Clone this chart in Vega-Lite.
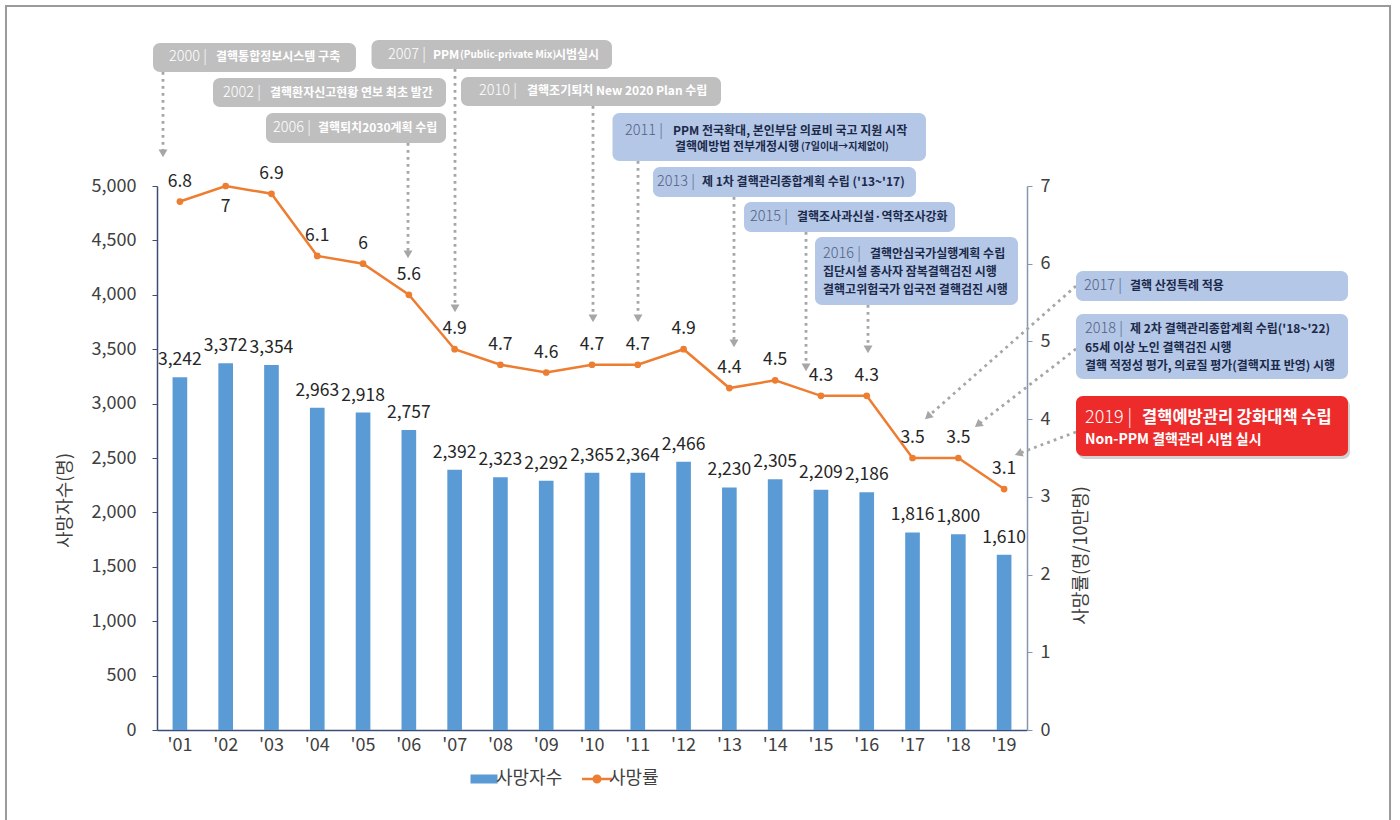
{
  "$schema": "https://vega.github.io/schema/vega-lite/v6.json",
  "width": 870,
  "height": 544,
  "autosize": {"type": "none"},
  "padding": {"left": 157, "top": 186, "right": 373, "bottom": 90},
  "background": "#ffffff",
  "config": {
    "font": "Noto Sans CJK KR",
    "view": {"stroke": null},
    "axis": {"labelFont": "Noto Sans CJK KR", "titleFont": "Noto Sans CJK KR", "grid": false}
  },
  "datasets": {
    "deaths": [
      {"yr": "'01", "count": 3242, "rate": 6.8},
      {"yr": "'02", "count": 3372, "rate": 7},
      {"yr": "'03", "count": 3354, "rate": 6.9},
      {"yr": "'04", "count": 2963, "rate": 6.1},
      {"yr": "'05", "count": 2918, "rate": 6},
      {"yr": "'06", "count": 2757, "rate": 5.6},
      {"yr": "'07", "count": 2392, "rate": 4.9},
      {"yr": "'08", "count": 2323, "rate": 4.7},
      {"yr": "'09", "count": 2292, "rate": 4.6},
      {"yr": "'10", "count": 2365, "rate": 4.7},
      {"yr": "'11", "count": 2364, "rate": 4.7},
      {"yr": "'12", "count": 2466, "rate": 4.9},
      {"yr": "'13", "count": 2230, "rate": 4.4},
      {"yr": "'14", "count": 2305, "rate": 4.5},
      {"yr": "'15", "count": 2209, "rate": 4.3},
      {"yr": "'16", "count": 2186, "rate": 4.3},
      {"yr": "'17", "count": 1816, "rate": 3.5},
      {"yr": "'18", "count": 1800, "rate": 3.5},
      {"yr": "'19", "count": 1610, "rate": 3.1}
    ],
    "frame": [
      {"x": 1997.202, "xe": 2027.428, "y": 9.316, "ye": -1.351}
    ],
    "boxes": [
      {"ev": "2000", "phase": "g", "x": 2000.413, "xe": 2004.846, "y": 8.840, "ye": 8.467},
      {"ev": "2002", "phase": "g", "x": 2001.723, "xe": 2006.812, "y": 8.390, "ye": 8.017},
      {"ev": "2006", "phase": "g", "x": 2002.880, "xe": 2006.812, "y": 7.939, "ye": 7.553},
      {"ev": "2007", "phase": "g", "x": 2005.185, "xe": 2010.437, "y": 8.879, "ye": 8.505},
      {"ev": "2010", "phase": "g", "x": 2007.139, "xe": 2012.817, "y": 8.403, "ye": 8.029},
      {"ev": "2011", "phase": "b", "x": 2010.448, "xe": 2017.294, "y": 7.939, "ye": 7.322},
      {"ev": "2013", "phase": "b", "x": 2011.332, "xe": 2017.076, "y": 7.244, "ye": 6.858},
      {"ev": "2015", "phase": "b", "x": 2013.320, "xe": 2017.928, "y": 6.794, "ye": 6.408},
      {"ev": "2016", "phase": "b", "x": 2014.870, "xe": 2019.304, "y": 6.344, "ye": 5.469},
      {"ev": "2017", "phase": "b", "x": 2020.570, "xe": 2026.511, "y": 5.906, "ye": 5.520},
      {"ev": "2018", "phase": "b", "x": 2020.570, "xe": 2026.511, "y": 5.353, "ye": 4.517},
      {"ev": "2019", "phase": "r", "x": 2020.570, "xe": 2026.511, "y": 4.298, "ye": 3.526}
    ],
    "arrows": [
      {"ev": "2000", "x": 2000.631, "y": 8.467, "xe": 2000.631, "ye": 7.437, "heading": 180},
      {"ev": "2006", "x": 2005.982, "y": 7.553, "xe": 2005.982, "ye": 6.138, "heading": 180},
      {"ev": "2007", "x": 2007.008, "y": 8.505, "xe": 2007.008, "ye": 5.443, "heading": 180},
      {"ev": "2010", "x": 2010.022, "y": 8.029, "xe": 2010.022, "ye": 5.314, "heading": 180},
      {"ev": "2011", "x": 2011.005, "y": 7.322, "xe": 2011.005, "ye": 5.314, "heading": 180},
      {"ev": "2013", "x": 2013.101, "y": 6.858, "xe": 2013.101, "ye": 4.993, "heading": 180},
      {"ev": "2015", "x": 2014.674, "y": 6.408, "xe": 2014.674, "ye": 4.684, "heading": 180},
      {"ev": "2016", "x": 2016.028, "y": 5.469, "xe": 2016.028, "ye": 4.915, "heading": 180},
      {"ev": "2017", "x": 2020.570, "y": 5.713, "xe": 2017.356, "ye": 4.044, "heading": 228.6},
      {"ev": "2018", "x": 2020.570, "y": 4.903, "xe": 2018.452, "ye": 3.938, "heading": 232.3},
      {"ev": "2019", "x": 2020.570, "y": 3.835, "xe": 2019.341, "ye": 3.562, "heading": 249.4}
    ],
    "notes": [
      {"phase": "g", "kind": "year", "x": 2000.762, "y": 8.660, "t": "2000 |"},
      {"phase": "g", "kind": "desc", "x": 2001.789, "y": 8.660, "t": "결핵통합정보시스템 구축"},
      {"phase": "g", "kind": "year", "x": 2001.941, "y": 8.203, "t": "2002 |"},
      {"phase": "g", "kind": "desc", "x": 2002.968, "y": 8.203, "t": "결핵환자신고현황 연보 최초 발간"},
      {"phase": "g", "kind": "year", "x": 2003.033, "y": 7.746, "t": "2006 |"},
      {"phase": "g", "kind": "desc", "x": 2004.016, "y": 7.746, "t": "결핵퇴치2030계획 수립"},
      {"phase": "g", "kind": "year", "x": 2005.545, "y": 8.692, "t": "2007 |"},
      {"phase": "g", "kind": "desc", "x": 2006.528, "y": 8.692, "t": "PPM"},
      {"phase": "g", "kind": "small", "x": 2007.117, "y": 8.685, "t": "(Public-private Mix)"},
      {"phase": "g", "kind": "desc", "x": 2009.192, "y": 8.692, "t": "시범실시"},
      {"phase": "g", "kind": "year", "x": 2007.532, "y": 8.216, "t": "2010 |"},
      {"phase": "g", "kind": "desc", "x": 2008.581, "y": 8.216, "t": "결핵조기퇴치 New 2020 Plan 수립"},
      {"phase": "b", "kind": "year", "x": 2010.721, "y": 7.714, "t": "2011 |"},
      {"phase": "b", "kind": "desc", "x": 2011.769, "y": 7.714, "t": "PPM 전국확대, 본인부담 의료비 국고 지원 시작"},
      {"phase": "b", "kind": "desc", "x": 2011.813, "y": 7.508, "t": "결핵예방법 전부개정시행"},
      {"phase": "b", "kind": "small", "x": 2014.565, "y": 7.502, "t": "(7일이내→지체없이)"},
      {"phase": "b", "kind": "year", "x": 2011.420, "y": 7.055, "t": "2013 |"},
      {"phase": "b", "kind": "desc", "x": 2012.402, "y": 7.055, "t": "제 1차 결핵관리종합계획 수립 ('13~'17)"},
      {"phase": "b", "kind": "year", "x": 2013.451, "y": 6.605, "t": "2015 |"},
      {"phase": "b", "kind": "desc", "x": 2014.477, "y": 6.605, "t": "결핵조사과신설·역학조사강화"},
      {"phase": "b", "kind": "year", "x": 2015.045, "y": 6.125, "t": "2016 |"},
      {"phase": "b", "kind": "desc", "x": 2016.071, "y": 6.125, "t": "결핵안심국가실행계획 수립"},
      {"phase": "b", "kind": "desc", "x": 2015.045, "y": 5.893, "t": "집단시설 종사자 잠복결핵검진 시행"},
      {"phase": "b", "kind": "desc", "x": 2015.045, "y": 5.662, "t": "결핵고위험국가 입국전 결핵검진 시행"},
      {"phase": "b", "kind": "year", "x": 2020.745, "y": 5.713, "t": "2017 |"},
      {"phase": "b", "kind": "desc", "x": 2021.750, "y": 5.713, "t": "결핵 산정특례 적용"},
      {"phase": "b", "kind": "year", "x": 2020.767, "y": 5.160, "t": "2018 |"},
      {"phase": "b", "kind": "desc", "x": 2021.750, "y": 5.160, "t": "제 2차 결핵관리종합계획 수립('18~'22)"},
      {"phase": "b", "kind": "desc", "x": 2020.767, "y": 4.915, "t": "65세 이상 노인 결핵검진 시행"},
      {"phase": "b", "kind": "desc", "x": 2020.767, "y": 4.684, "t": "결핵 적정성 평가, 의료질 평가(결핵지표 반영) 시행"},
      {"phase": "r", "kind": "hlyear", "x": 2020.767, "y": 4.015, "t": "2019 |"},
      {"phase": "r", "kind": "hldesc", "x": 2022.012, "y": 4.015, "t": "결핵예방관리 강화대책 수립"},
      {"phase": "r", "kind": "hlsub", "x": 2020.767, "y": 3.732, "t": "Non-PPM 결핵관리 시범 실시"}
    ]
  },
  "resolve": {
    "scale": {"x": "independent", "y": "independent"},
    "axis": {"x": "independent", "y": "independent"}
  },
  "layer": [
    {
      "data": {"name": "deaths"},
      "encoding": {
        "x": {
          "field": "yr", "type": "ordinal", "sort": null,
          "scale": {"paddingInner": 0.68, "paddingOuter": 0.34},
          "axis": {
            "title": null, "labelAngle": 0, "labelFontSize": 18, "labelColor": "#404040",
            "labelPadding": 6, "ticks": false, "domainColor": "#3b4e78", "domainWidth": 1.5
          }
        },
        "y": {
          "field": "count", "type": "quantitative",
          "scale": {"domain": [0, 5000], "nice": false},
          "axis": {
            "orient": "left", "title": "사망자수(명)",
            "values": [0, 500, 1000, 1500, 2000, 2500, 3000, 3500, 4000, 4500, 5000],
            "format": ",d", "labelFontSize": 18, "labelColor": "#404040", "labelPadding": 16,
            "tickSize": 5, "tickColor": "#3b4e78", "domainColor": "#3b4e78", "domainWidth": 1.5,
            "titleFontSize": 18, "titleFontWeight": "normal", "titleColor": "#404040",
            "titleAngle": 270, "titleX": -92, "titleY": 314, "titleAlign": "center", "titleBaseline": "middle"
          }
        }
      },
      "layer": [
        {
          "mark": {"type": "bar"},
          "encoding": {
            "color": {
              "datum": "사망자수", "type": "nominal",
              "scale": {"domain": ["사망자수", "사망률"], "range": ["#5b9bd5", "#ed7d31"]},
              "legend": {
                "orient": "none", "legendX": 318, "legendY": 584, "direction": "horizontal",
                "title": null, "labelFontSize": 18, "labelColor": "#404040", "labelOffset": 3,
                "symbolSize": 900, "columnPadding": 14,
                "encode": {
                  "symbols": {
                    "update": {
                      "shape": {"signal": "datum.value === '사망자수' ? 'M-0.9,-0.3H0.9V0.3H-0.9Z' : 'M-1,0H1M-0.22,0A0.22,0.22,0,1,0,0.22,0A0.22,0.22,0,1,0,-0.22,0Z'"},
                      "fill": {"scale": "color", "field": "value"},
                      "stroke": {"scale": "color", "field": "value"},
                      "strokeWidth": {"signal": "datum.value === '사망자수' ? 0 : 2.5"},
                      "opacity": {"value": 1},
                      "fillOpacity": {"value": 1}
                    }
                  }
                }
              }
            }
          }
        },
        {
          "mark": {"type": "text", "dy": -17, "fontSize": 17.5, "color": "#262626", "baseline": "middle"},
          "encoding": {"text": {"field": "count", "type": "quantitative", "format": ","}}
        }
      ]
    },
    {
      "data": {"name": "deaths"},
      "encoding": {
        "x": {
          "field": "yr", "type": "ordinal", "sort": null,
          "scale": {"paddingInner": 0.68, "paddingOuter": 0.34},
          "axis": null
        },
        "y": {
          "field": "rate", "type": "quantitative",
          "scale": {"domain": [0, 7], "nice": false},
          "axis": {
            "orient": "right", "title": "사망률(명/10만명)",
            "values": [0, 1, 2, 3, 4, 5, 6, 7],
            "labelFontSize": 18, "labelColor": "#404040", "labelPadding": 8,
            "tickSize": 5, "tickColor": "#8497b0", "domainColor": "#8497b0", "domainWidth": 1.5,
            "titleFontSize": 18, "titleFontWeight": "normal", "titleColor": "#404040",
            "titleAngle": 270, "titleX": 54, "titleY": 369, "titleAlign": "center", "titleBaseline": "middle"
          }
        }
      },
      "layer": [
        {
          "mark": {"type": "line", "strokeWidth": 2.5},
          "encoding": {"color": {"datum": "사망률", "type": "nominal"}}
        },
        {
          "mark": {"type": "point", "filled": true, "size": 45, "opacity": 1},
          "encoding": {"color": {"datum": "사망률", "type": "nominal"}}
        },
        {
          "transform": [{"filter": {"not": {"field": "yr", "equal": "'02"}}}],
          "mark": {"type": "text", "dy": -20, "fontSize": 17.5, "color": "#262626", "baseline": "middle"},
          "encoding": {"text": {"field": "rate", "type": "quantitative"}}
        },
        {
          "transform": [{"filter": {"field": "yr", "equal": "'02"}}],
          "mark": {"type": "text", "dy": 21, "fontSize": 17.5, "color": "#262626", "baseline": "middle"},
          "encoding": {"text": {"field": "rate", "type": "quantitative"}}
        }
      ]
    },
    {
      "encoding": {
        "x": {"field": "x", "type": "quantitative", "scale": {"domain": [2000.5, 2019.5], "nice": false, "zero": false}, "axis": null},
        "y": {"field": "y", "type": "quantitative", "scale": {"domain": [0, 7], "nice": false, "zero": false}, "axis": null}
      },
      "layer": [
        {
          "data": {"name": "frame"},
          "mark": {"type": "rect", "fill": "transparent", "stroke": "#9a9a9a", "strokeWidth": 2},
          "encoding": {"x2": {"field": "xe"}, "y2": {"field": "ye"}}
        },
        {
          "data": {"name": "arrows"},
          "mark": {"type": "rule", "color": "#a6a6a6", "strokeWidth": 2.8, "strokeDash": [2.8, 4.2]},
          "encoding": {"x2": {"field": "xe"}, "y2": {"field": "ye"}}
        },
        {
          "data": {"name": "arrows"},
          "mark": {"type": "point", "shape": "triangle", "filled": true, "size": 80, "color": "#a6a6a6", "opacity": 1},
          "encoding": {
            "x": {"field": "xe", "type": "quantitative", "scale": {"domain": [2000.5, 2019.5], "nice": false, "zero": false}, "axis": null},
            "y": {"field": "ye", "type": "quantitative", "scale": {"domain": [0, 7], "nice": false, "zero": false}, "axis": null},
            "angle": {"field": "heading", "type": "quantitative", "scale": null}
          }
        },
        {
          "data": {"name": "boxes"},
          "transform": [{"filter": "datum.phase === 'r'"}],
          "mark": {"type": "rect", "cornerRadius": 7, "color": "#000000", "opacity": 0.18, "xOffset": 2, "x2Offset": 2, "yOffset": 3, "y2Offset": 3},
          "encoding": {"x2": {"field": "xe"}, "y2": {"field": "ye"}}
        },
        {
          "data": {"name": "boxes"},
          "mark": {"type": "rect", "cornerRadius": 7, "opacity": 1},
          "encoding": {
            "x2": {"field": "xe"}, "y2": {"field": "ye"},
            "fill": {"field": "phase", "type": "nominal", "scale": {"domain": ["g", "b", "r"], "range": ["#bfbfbf", "#b4c7e7", "#ee2b2b"]}, "legend": null}
          }
        },
        {
          "data": {"name": "notes"},
          "transform": [{"filter": "datum.kind === 'year'"}],
          "mark": {"type": "text", "align": "left", "baseline": "middle", "fontWeight": 300, "fontSize": 14.5},
          "encoding": {
            "text": {"field": "t", "type": "nominal"},
            "fill": {"condition": {"test": "datum.phase === 'b'", "value": "#52617f"}, "value": "#ffffff"}
          }
        },
        {
          "data": {"name": "notes"},
          "transform": [{"filter": "datum.kind === 'desc'"}],
          "mark": {"type": "text", "align": "left", "baseline": "middle", "fontWeight": "bold", "fontSize": 12},
          "encoding": {
            "text": {"field": "t", "type": "nominal"},
            "fill": {"condition": {"test": "datum.phase === 'b'", "value": "#1c2a4a"}, "value": "#ffffff"}
          }
        },
        {
          "data": {"name": "notes"},
          "transform": [{"filter": "datum.kind === 'small'"}],
          "mark": {"type": "text", "align": "left", "baseline": "middle", "fontWeight": "bold", "fontSize": 10},
          "encoding": {
            "text": {"field": "t", "type": "nominal"},
            "fill": {"condition": {"test": "datum.phase === 'b'", "value": "#1c2a4a"}, "value": "#ffffff"}
          }
        },
        {
          "data": {"name": "notes"},
          "transform": [{"filter": "datum.kind === 'hlyear'"}],
          "mark": {"type": "text", "align": "left", "baseline": "middle", "fontWeight": 300, "fontSize": 18, "color": "#ffffff"},
          "encoding": {"text": {"field": "t", "type": "nominal"}}
        },
        {
          "data": {"name": "notes"},
          "transform": [{"filter": "datum.kind === 'hldesc'"}],
          "mark": {"type": "text", "align": "left", "baseline": "middle", "fontWeight": "bold", "fontSize": 16.5, "color": "#ffffff"},
          "encoding": {"text": {"field": "t", "type": "nominal"}}
        },
        {
          "data": {"name": "notes"},
          "transform": [{"filter": "datum.kind === 'hlsub'"}],
          "mark": {"type": "text", "align": "left", "baseline": "middle", "fontWeight": "bold", "fontSize": 14, "color": "#ffffff"},
          "encoding": {"text": {"field": "t", "type": "nominal"}}
        }
      ]
    }
  ]
}
